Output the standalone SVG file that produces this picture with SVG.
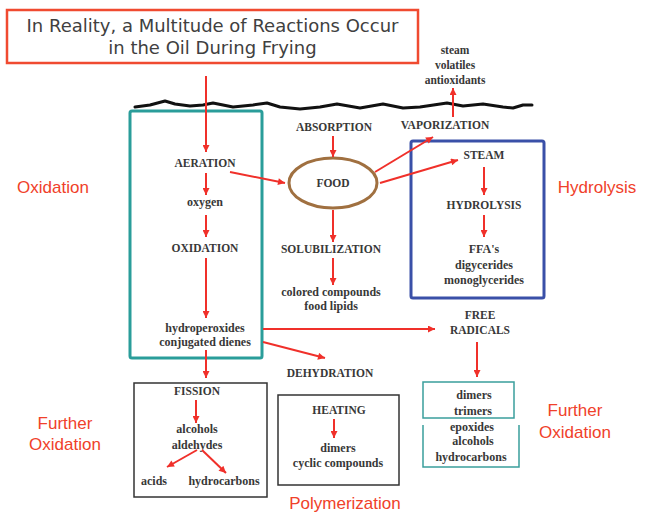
<svg xmlns="http://www.w3.org/2000/svg" width="648" height="514" viewBox="0 0 648 514">
<style>
.t{font-family:"Liberation Serif","Times New Roman",serif;font-weight:bold;fill:#383838;text-anchor:middle}
.c{font-size:11.5px}
.l{font-size:12px}
.s{font-size:11.5px}
.lab{font-family:"Liberation Sans",Arial,sans-serif;font-size:17px;fill:#f0412a;text-anchor:middle}
.ttl{font-family:"DejaVu Sans",Verdana,sans-serif;font-size:18px;fill:#404040;text-anchor:middle}
.a{stroke:#f0302a;stroke-width:2;fill:none;marker-end:url(#ah)}
.box{fill:none;stroke:#333;stroke-width:1.5}
</style>
<defs>
<marker id="ah" viewBox="0 0 10 10" refX="10" refY="5" markerWidth="9" markerHeight="7" markerUnits="userSpaceOnUse" orient="auto">
<path d="M0,0 L10,5 L0,10 z" fill="#f0302a"/>
</marker>
</defs>
<rect width="648" height="514" fill="#fff"/>
<g id="title">
<rect x="7" y="10" width="411" height="53" fill="#fff" stroke="#f04a30" stroke-width="2.5"/>
<text class="ttl" x="212.5" y="32">In Reality, a Multitude of Reactions Occur</text>
<text class="ttl" x="212.5" y="54">in the Oil During Frying</text>
</g>
<g id="surface">
<polyline points="135,107 150,105 165,101 175,104 190,106 203,105 213,103 233,107 253,105 267,103 280,107 300,109 320,107 337,104 360,108 383,104 403,108 420,107 447,103 463,106 483,104 503,107 513,108 523,105 532,105" fill="none" stroke="#111" stroke-width="3" stroke-linejoin="round" stroke-linecap="round"/>
</g>
<g id="oxidation-box">
<rect x="130" y="111" width="132" height="247" rx="2" fill="none" stroke="#2a9d9a" stroke-width="3"/>
<text class="t c" x="205" y="167">AERATION</text>
<text class="t l" x="205" y="206">oxygen</text>
<text class="t c" x="205" y="252">OXIDATION</text>
<text class="t l" x="205" y="332">hydroperoxides</text>
<text class="t l" x="205" y="346">conjugated dienes</text>
</g>
<g id="food">
<ellipse cx="333" cy="183" rx="44" ry="25" fill="none" stroke="#a07040" stroke-width="3"/>
<text class="t c" x="333" y="187">FOOD</text>
</g>
<g id="absorption"><text class="t c" x="334" y="131">ABSORPTION</text></g>
<g id="vaporization"><text class="t c" x="445" y="129">VAPORIZATION</text></g>
<g id="volatiles">
<text class="t s" x="455" y="54">steam</text>
<text class="t s" x="455" y="69">volatiles</text>
<text class="t s" x="455" y="84">antioxidants</text>
</g>
<g id="solubilization">
<text class="t c" x="331" y="253">SOLUBILIZATION</text>
</g>
<g id="colored">
<text class="t l" x="331" y="296">colored compounds</text>
<text class="t l" x="331" y="310">food lipids</text>
</g>
<g id="hydrolysis-box">
<rect x="411" y="141" width="133" height="157" rx="2" fill="none" stroke="#3a50a8" stroke-width="3"/>
<text class="t c" x="484" y="159">STEAM</text>
<text class="t c" x="484" y="209">HYDROLYSIS</text>
<text class="t l" x="484" y="253">FFA's</text>
<text class="t l" x="484" y="269">digycerides</text>
<text class="t l" x="484" y="284">monoglycerides</text>
</g>
<g id="free-radicals">
<text class="t c" x="480" y="319">FREE</text>
<text class="t c" x="480" y="334">RADICALS</text>
</g>
<g id="dimers-trimers">
<rect x="423" y="382" width="91" height="36" fill="none" stroke="#3a9e9c" stroke-width="1.5"/>
<text class="t l" x="474" y="399">dimers</text>
<text class="t l" x="473" y="415">trimers</text>
</g>
<g id="epoxides">
<path d="M423,425 V467 H519 V425" fill="none" stroke="#3a9e9c" stroke-width="1.5"/>
<text class="t l" x="472" y="431">epoxides</text>
<text class="t l" x="473" y="445">alcohols</text>
<text class="t l" x="471" y="461">hydrocarbons</text>
</g>
<g id="dehydration"><text class="t c" x="330" y="377">DEHYDRATION</text></g>
<g id="fission-box">
<rect x="134" y="383" width="133" height="114" class="box"/>
<text class="t c" x="197" y="395">FISSION</text>
<text class="t l" x="197" y="433">alcohols</text>
<text class="t l" x="197" y="449">aldehydes</text>
<text class="t l" x="154" y="485">acids</text>
<text class="t l" x="224" y="485">hydrocarbons</text>
</g>
<g id="heating-box">
<rect x="278" y="395" width="121" height="90" class="box"/>
<text class="t c" x="339" y="414">HEATING</text>
<text class="t l" x="338" y="452">dimers</text>
<text class="t l" x="338" y="467">cyclic compounds</text>
</g>
<g id="labels">
<text class="lab" x="53" y="193">Oxidation</text>
<text class="lab" x="597" y="193">Hydrolysis</text>
<text class="lab" x="65" y="429">Further</text>
<text class="lab" x="65" y="450">Oxidation</text>
<text class="lab" x="575" y="416">Further</text>
<text class="lab" x="575" y="438">Oxidation</text>
<text class="lab" x="345" y="509">Polymerization</text>
</g>
<g id="connectors">
<line class="a" x1="206" y1="76" x2="206" y2="152"/>
<line class="a" x1="206" y1="173" x2="206" y2="195"/>
<line class="a" x1="206" y1="215" x2="206" y2="237"/>
<line class="a" x1="206" y1="258" x2="206" y2="318"/>
<line class="a" x1="206" y1="350" x2="206" y2="378"/>
<line class="a" x1="230" y1="172" x2="285" y2="183"/>
<line class="a" x1="333" y1="136" x2="333" y2="157"/>
<line class="a" x1="333" y1="210" x2="333" y2="242"/>
<line class="a" x1="333" y1="258" x2="333" y2="285"/>
<line class="a" x1="375" y1="172" x2="433" y2="137"/>
<line class="a" x1="380" y1="183" x2="458" y2="160"/>
<line class="a" x1="453" y1="117" x2="453" y2="88"/>
<line class="a" x1="484" y1="167" x2="484" y2="195"/>
<line class="a" x1="484" y1="215" x2="484" y2="237"/>
<line class="a" x1="263" y1="329" x2="435" y2="329"/>
<line class="a" x1="477" y1="342" x2="477" y2="377"/>
<line class="a" x1="263" y1="342" x2="325" y2="358"/>
<line class="a" x1="196" y1="400" x2="196" y2="423"/>
<line class="a" x1="197" y1="450" x2="167" y2="467"/>
<line class="a" x1="202" y1="450" x2="226" y2="473"/>
<line class="a" x1="334" y1="419" x2="334" y2="438"/>
</g>
</svg>
